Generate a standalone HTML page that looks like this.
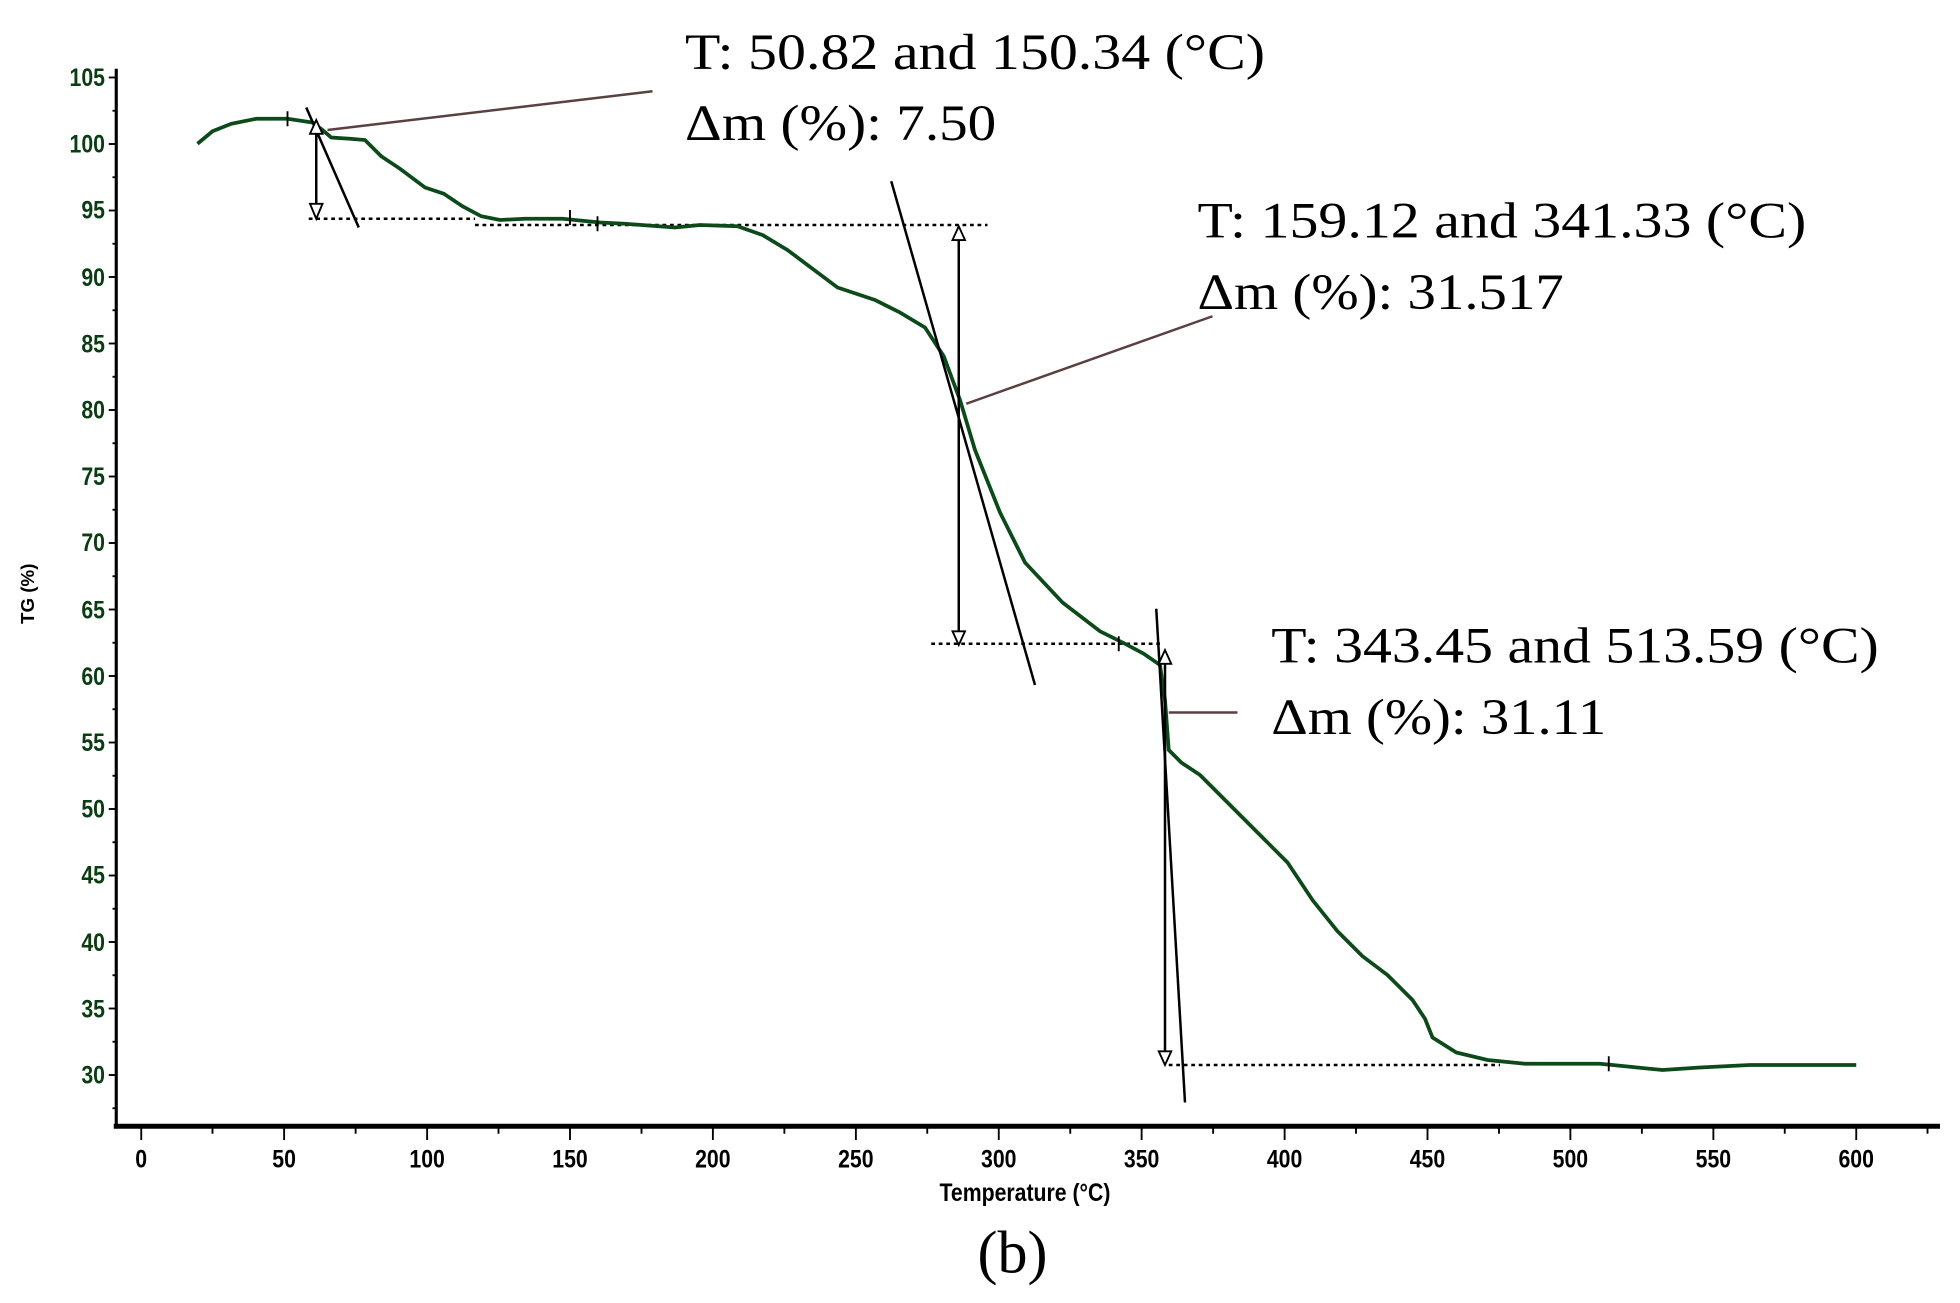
<!DOCTYPE html>
<html><head><meta charset="utf-8"><style>html,body{margin:0;padding:0;background:#fff}svg{display:block}</style></head>
<body>
<svg width="1960" height="1303" viewBox="0 0 1568 1042.4" xmlns="http://www.w3.org/2000/svg">
<rect width="1568" height="1042.4" fill="#fff"/>
<!-- axes -->
<line x1="93" y1="55" x2="93" y2="902" stroke="#000" stroke-width="2.5"/>
<line x1="91" y1="901" x2="1552" y2="901" stroke="#000" stroke-width="4"/>
<g stroke="#000" stroke-width="1.5">
<line x1="87" y1="62" x2="93" y2="62"/><line x1="87" y1="115.2" x2="93" y2="115.2"/><line x1="87" y1="168.4" x2="93" y2="168.4"/><line x1="87" y1="221.6" x2="93" y2="221.6"/><line x1="87" y1="274.8" x2="93" y2="274.8"/><line x1="87" y1="328" x2="93" y2="328"/><line x1="87" y1="381.2" x2="93" y2="381.2"/><line x1="87" y1="434.4" x2="93" y2="434.4"/><line x1="87" y1="487.6" x2="93" y2="487.6"/><line x1="87" y1="540.8" x2="93" y2="540.8"/><line x1="87" y1="594" x2="93" y2="594"/><line x1="87" y1="647.2" x2="93" y2="647.2"/><line x1="87" y1="700.4" x2="93" y2="700.4"/><line x1="87" y1="753.6" x2="93" y2="753.6"/><line x1="87" y1="806.8" x2="93" y2="806.8"/><line x1="87" y1="860" x2="93" y2="860"/>
<line x1="90" y1="88.6" x2="93" y2="88.6"/><line x1="90" y1="141.8" x2="93" y2="141.8"/><line x1="90" y1="195" x2="93" y2="195"/><line x1="90" y1="248.2" x2="93" y2="248.2"/><line x1="90" y1="301.4" x2="93" y2="301.4"/><line x1="90" y1="354.6" x2="93" y2="354.6"/><line x1="90" y1="407.8" x2="93" y2="407.8"/><line x1="90" y1="461" x2="93" y2="461"/><line x1="90" y1="514.2" x2="93" y2="514.2"/><line x1="90" y1="567.4" x2="93" y2="567.4"/><line x1="90" y1="620.6" x2="93" y2="620.6"/><line x1="90" y1="673.8" x2="93" y2="673.8"/><line x1="90" y1="727" x2="93" y2="727"/><line x1="90" y1="780.2" x2="93" y2="780.2"/><line x1="90" y1="833.4" x2="93" y2="833.4"/><line x1="90" y1="886.6" x2="93" y2="886.6"/>
<line x1="113" y1="901" x2="113" y2="912"/><line x1="227.3" y1="901" x2="227.3" y2="912"/><line x1="341.7" y1="901" x2="341.7" y2="912"/><line x1="456" y1="901" x2="456" y2="912"/><line x1="570.3" y1="901" x2="570.3" y2="912"/><line x1="684.7" y1="901" x2="684.7" y2="912"/><line x1="799" y1="901" x2="799" y2="912"/><line x1="913.3" y1="901" x2="913.3" y2="912"/><line x1="1027.7" y1="901" x2="1027.7" y2="912"/><line x1="1142" y1="901" x2="1142" y2="912"/><line x1="1256.3" y1="901" x2="1256.3" y2="912"/><line x1="1370.7" y1="901" x2="1370.7" y2="912"/><line x1="1485" y1="901" x2="1485" y2="912"/>
<line x1="170" y1="901" x2="170" y2="907"/><line x1="284.5" y1="901" x2="284.5" y2="907"/><line x1="398.8" y1="901" x2="398.8" y2="907"/><line x1="513.2" y1="901" x2="513.2" y2="907"/><line x1="627.5" y1="901" x2="627.5" y2="907"/><line x1="741.8" y1="901" x2="741.8" y2="907"/><line x1="856.2" y1="901" x2="856.2" y2="907"/><line x1="970.5" y1="901" x2="970.5" y2="907"/><line x1="1084.8" y1="901" x2="1084.8" y2="907"/><line x1="1199.2" y1="901" x2="1199.2" y2="907"/><line x1="1313.5" y1="901" x2="1313.5" y2="907"/><line x1="1427.8" y1="901" x2="1427.8" y2="907"/><line x1="1542" y1="901" x2="1542" y2="907"/>
</g>
<g font-family="Liberation Sans, sans-serif" font-weight="bold" font-size="20" fill="#0a3d12" text-anchor="end" transform="scale(0.85,1)">
<text x="98.8" y="69">105</text><text x="98.8" y="122">100</text><text x="98.8" y="175">95</text><text x="98.8" y="229">90</text><text x="98.8" y="282">85</text><text x="98.8" y="335">80</text><text x="98.8" y="388">75</text><text x="98.8" y="441">70</text><text x="98.8" y="495">65</text><text x="98.8" y="548">60</text><text x="98.8" y="601">55</text><text x="98.8" y="654">50</text><text x="98.8" y="707">45</text><text x="98.8" y="761">40</text><text x="98.8" y="814">35</text><text x="98.8" y="867">30</text>
</g>
<g font-family="Liberation Sans, sans-serif" font-weight="bold" font-size="20" fill="#000" text-anchor="middle" transform="scale(0.85,1)">
<text x="132.9" y="934">0</text><text x="267.4" y="934">50</text><text x="402" y="934">100</text><text x="536.5" y="934">150</text><text x="670.9" y="934">200</text><text x="805.5" y="934">250</text><text x="940" y="934">300</text><text x="1074.5" y="934">350</text><text x="1209" y="934">400</text><text x="1343.5" y="934">450</text><text x="1478" y="934">500</text><text x="1612.6" y="934">550</text><text x="1747" y="934">600</text>
<text x="964.7" y="961">Temperature (°C)</text>
</g>
<text transform="translate(27,475) rotate(-90)" font-family="Liberation Sans, sans-serif" font-weight="bold" font-size="15" text-anchor="middle">TG (%)</text>
<text x="810" y="1018" text-anchor="middle" font-family="Liberation Serif, serif" font-size="48">(b)</text>
<!-- dashed -->
<g stroke="#000" stroke-width="2" stroke-dasharray="3,3">
<line x1="247" y1="175" x2="380" y2="175"/><line x1="380" y1="180" x2="790" y2="180"/>
<line x1="745" y1="515" x2="930" y2="515"/><line x1="935" y1="852" x2="1200" y2="852"/>
</g>
<!-- curve -->
<polyline fill="none" stroke="#0d4a1a" stroke-width="3" points="158,115 170,105 185,99 205,95 230,95 250,98 258,104 265,110 280,111 292,112 305,125 320,135 340,150 355,155 370,165 385,173 400,176 420,175 450,175 480,178 500,179 540,182 560,180 590,181 610,188 630,200 650,215 670,230 700,240 720,250 740,262 755,285 768,320 780,360 800,410 820,450 850,482 880,505 900,515 915,523 928,532 932,560 935,600 945,610 960,620 990,650 1010,670 1030,690 1050,720 1070,745 1090,765 1110,780 1130,800 1140,815 1146,830 1165,842 1190,848 1220,851 1280,851 1300,853 1330,856 1360,854 1400,852 1485,852"/>
<g stroke="#000" stroke-width="1.5">
<line x1="230" y1="89" x2="230" y2="101"/><line x1="456" y1="168" x2="456" y2="180"/><line x1="478" y1="173" x2="478" y2="185"/><line x1="895" y1="509" x2="895" y2="521"/><line x1="1287" y1="845" x2="1287" y2="857"/>
</g>
<!-- tangents & arrows -->
<g stroke="#000" stroke-width="2" fill="none">
<line x1="245" y1="86" x2="287" y2="182"/>
<line x1="713" y1="145" x2="828" y2="548"/>
<line x1="925" y1="487" x2="948" y2="882"/>
<line x1="253" y1="105" x2="253" y2="165"/>
<line x1="767" y1="190" x2="767" y2="505"/>
<line x1="932" y1="530" x2="932" y2="842"/>
</g>
<g stroke="#000" stroke-width="1.5" fill="#fff">
<polygon points="248,163 258,163 253,175"/><polygon points="248,107 258,107 253,96"/>
<polygon points="762,192 772,192 767,181"/><polygon points="762,505 772,505 767,516"/>
<polygon points="927,531 937,531 932,520"/><polygon points="927,841 937,841 932,852"/>
</g>
<g stroke="#5a4040" stroke-width="2">
<line x1="262" y1="104" x2="522" y2="73"/><line x1="773" y1="323" x2="970" y2="253"/><line x1="935" y1="570" x2="990" y2="570"/>
</g>
<g font-family="Liberation Serif, serif" font-size="41" fill="#000" lengthAdjust="spacingAndGlyphs">
<text x="548" y="55" textLength="464" lengthAdjust="spacingAndGlyphs">T: 50.82 and 150.34 (°C)</text><text x="548" y="112" textLength="249" lengthAdjust="spacingAndGlyphs">Δm (%): 7.50</text>
<text x="958" y="190" textLength="487" lengthAdjust="spacingAndGlyphs">T: 159.12 and 341.33 (°C)</text><text x="958" y="247" textLength="293" lengthAdjust="spacingAndGlyphs">Δm (%): 31.517</text>
<text x="1017" y="530" textLength="486" lengthAdjust="spacingAndGlyphs">T: 343.45 and 513.59 (°C)</text><text x="1017" y="587" textLength="268" lengthAdjust="spacingAndGlyphs">Δm (%): 31.11</text>
</g>
</svg>
</body></html>
